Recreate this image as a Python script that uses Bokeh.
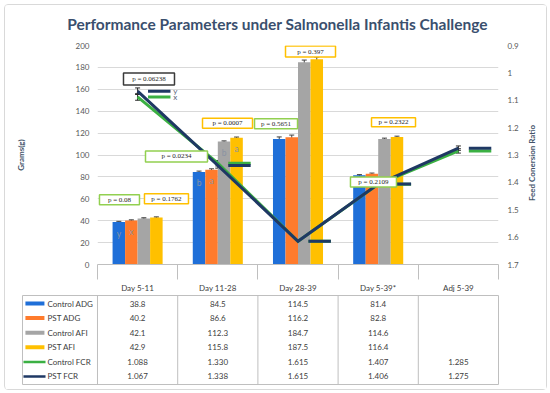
import math
from bokeh.plotting import figure
from bokeh.models import (Range1d, LinearAxis, FixedTicker, NumeralTickFormatter,
                          ColumnDataSource, Whisker, TeeHead)
from bokeh.layouts import column, row
from bokeh.core.properties import value
from bokeh.embed import file_html
from bokeh.resources import INLINE

# ---------------- data ----------------
categories = ["Day 5-11", "Day 11-28", "Day 28-39", "Day 5-39*", "Adj 5-39"]
control_adg = [38.8, 84.5, 114.5, 81.4]
pst_adg = [40.2, 86.6, 116.2, 82.8]
control_afi = [42.1, 112.3, 184.7, 114.6]
pst_afi = [42.9, 115.8, 187.5, 116.4]
control_fcr = [1.088, 1.330, 1.615, 1.407, 1.285]
pst_fcr = [1.067, 1.338, 1.615, 1.406, 1.275]
# error bars
control_adg_se = [0.6, 0.8, 2.0, 0.7]
pst_adg_se = [0.6, 0.8, 2.0, 0.7]
control_afi_se = [0.6, 0.6, 2.0, 0.8]
pst_afi_se = [0.6, 0.6, 2.0, 0.8]
control_fcr_se = [0.012, 0.010, 0.010, 0.008, 0.008]
pst_fcr_se = [0.012, 0.010, 0.010, 0.008, 0.008]
left_ticks = [0, 20, 40, 60, 80, 100, 120, 140, 160, 180, 200]
right_ticks = [0.9, 1.0, 1.1, 1.2, 1.3, 1.4, 1.5, 1.6, 1.7]
# significance letters: (series name, category index, letter)
bar_letters = [("Control ADG", 0, "y"), ("PST ADG", 0, "x"),
               ("Control ADG", 1, "b"), ("PST ADG", 1, "a"),
               ("Control AFI", 1, "b"), ("PST AFI", 1, "a")]
fcr_letters = [("PST FCR", 0, "y"), ("Control FCR", 0, "x")]
# p-value boxes
p_texts = ["p = 0.08", "p = 0.1762", "p = 0.06238", "p = 0.0234", "p = 0.0007",
           "p = 0.5651", "p = 0.397", "p = 0.2109", "p = 0.2322"]
title_text = "Performance Parameters under Salmonella Infantis Challenge"
left_title = "Grams(g)"
right_title = "Feed Conersion Ratio"

# ---------------- styling / layout (not data) ----------------
FONT = "Lato"
TXT = "#595959"
TAB_TXT = "#404040"
SLATE = "#44546A"
GRID = "#D9D9D9"
TLINE = "#BFBFBF"
GREEN_BOX = "#92D050"
GOLD_BOX = "#FFC000"
DARK_BOX = "#3A3A3A"
LETTER_COLOR = "#8A93A3"
# (x in category units, y in grams, box w px, box h px, colour)
p_layout = [(0.274, 59.1, 40, 10, GREEN_BOX), (0.860, 60.0, 44, 10, GOLD_BOX),
            (0.642, 169.4, 51, 12, DARK_BOX), (0.985, 98.7, 62, 11, GREEN_BOX),
            (1.621, 128.9, 50, 10, GOLD_BOX), (2.226, 128.5, 43, 10, GREEN_BOX),
            (2.656, 194.5, 50, 11, GOLD_BOX), (3.441, 75.3, 46, 10, GREEN_BOX),
            (3.691, 129.8, 44, 9, GOLD_BOX)]

bar_series = [
    ("Control ADG", control_adg, control_adg_se, "#1F6FD8"),
    ("PST ADG", pst_adg, pst_adg_se, "#FF7B2C"),
    ("Control AFI", control_afi, control_afi_se, "#A5A5A5"),
    ("PST AFI", pst_afi, pst_afi_se, "#FFC000"),
]
line_series = [
    ("Control FCR", control_fcr, control_fcr_se, "#3BB043"),
    ("PST FCR", pst_fcr, pst_fcr_se, "#1F3864"),
]
BAR_W = 0.156
offsets = [-1.5 * BAR_W, -0.5 * BAR_W, 0.5 * BAR_W, 1.5 * BAR_W]
DASH0, DASH1 = 0.13, 0.41
LETTER_DROP = 10.5

MAIN_W = 519
SIDE_W = 22
TITLE_H = 30


def no_align(fig):
    try:
        fig.frame_align = False
    except Exception:
        pass


def blank(fig):
    fig.grid.visible = False
    no_align(fig)


# ---------------- title strip ----------------
ttl = figure(width=MAIN_W, height=TITLE_H, x_range=Range1d(0, MAIN_W), y_range=Range1d(0, TITLE_H),
             x_axis_location=None, y_axis_location=None,
             output_backend="svg", toolbar_location=None,
             min_border_left=0, min_border_right=0, min_border_top=0, min_border_bottom=0,
             background_fill_color="white", border_fill_color="white", outline_line_color=None)
blank(ttl)
ttl.text(x=[272], y=[12], text=[title_text], text_font=value(FONT), text_font_size="15.5px",
         text_font_style="bold", text_color="#3A4F6E", text_align="center",
         text_baseline="middle")

# ---------------- main chart ----------------
top = figure(width=MAIN_W, height=290 - TITLE_H, x_range=Range1d(0, 5), y_range=Range1d(0, 200),
             output_backend="svg", toolbar_location=None,
             min_border_left=92, min_border_right=26, min_border_top=10, min_border_bottom=15,
             background_fill_color="white", border_fill_color="white", outline_line_color=None)
no_align(top)
top.extra_y_ranges = {"fcr": Range1d(1.7, 0.9)}

yax = top.yaxis[0]
yax.ticker = FixedTicker(ticks=left_ticks)
yax.axis_line_color = None
yax.major_tick_line_color = None
yax.minor_tick_line_color = None
yax.major_tick_out = 0
yax.major_tick_in = 0
yax.major_label_text_font = FONT
yax.major_label_text_font_size = "8px"
yax.major_label_text_color = TXT
yax.major_label_standoff = 8
yax.axis_label = left_title
yax.axis_label_text_font = FONT
yax.axis_label_text_font_size = "8px"
yax.axis_label_text_font_style = "bold"
yax.axis_label_text_color = SLATE
yax.axis_label_standoff = 47

top.ygrid.ticker = FixedTicker(ticks=left_ticks)
top.ygrid.grid_line_color = GRID
top.xgrid.visible = False

rax = LinearAxis(y_range_name="fcr", ticker=FixedTicker(ticks=right_ticks),
                 formatter=NumeralTickFormatter(format="0.[0]"))
rax.axis_line_color = None
rax.major_tick_line_color = None
rax.minor_tick_line_color = None
rax.major_tick_out = 0
rax.major_tick_in = 0
rax.major_label_text_font = FONT
rax.major_label_text_font_size = "8px"
rax.major_label_text_color = TXT
rax.major_label_standoff = 9
top.add_layout(rax, "right")

xax = top.xaxis[0]
xax.ticker = FixedTicker(ticks=[i + 0.5 for i in range(len(categories))],
                         minor_ticks=list(range(len(categories) + 1)))
xax.major_label_overrides = {i + 0.5: c for i, c in enumerate(categories)}
xax.major_tick_out = 0
xax.major_tick_in = 0
xax.major_tick_line_color = None
xax.minor_tick_out = 15
xax.minor_tick_in = 0
xax.minor_tick_line_color = TLINE
xax.axis_line_color = TLINE
xax.major_label_standoff = 3
xax.major_label_text_font = FONT
xax.major_label_text_font_size = "8px"
xax.major_label_text_color = TAB_TXT

# bars + error bars
bar_x = {}
for k, (name, vals, se, color) in enumerate(bar_series):
    xs = [i + 0.5 + offsets[k] for i in range(len(vals))]
    bar_x[name] = (xs, vals)
    src = ColumnDataSource(dict(x=xs, top=vals,
                                upper=[v + s for v, s in zip(vals, se)],
                                lower=[v - s for v, s in zip(vals, se)]))
    top.vbar(x="x", top="top", width=BAR_W, bottom=0, source=src,
             fill_color=color, line_color=None)
    top.add_layout(Whisker(source=src, base="x", upper="upper", lower="lower",
                           line_color="#404040", line_width=1,
                           upper_head=TeeHead(size=5, line_color="#404040", line_width=1),
                           lower_head=TeeHead(size=5, line_color="#404040", line_width=1)))

# letters inside bars
lx, ly, lt = [], [], []
for name, idx, letter in bar_letters:
    xs, vals = bar_x[name]
    lx.append(xs[idx]); ly.append(vals[idx] - LETTER_DROP); lt.append(letter)
top.text(x=lx, y=ly, text=lt, text_font=value(FONT), text_font_size="8.5px",
         text_color=LETTER_COLOR, text_align="center", text_baseline="middle")

# FCR lines
fcr_vals = {}
for name, vals, se, color in line_series:
    xs = [i + 0.5 for i in range(len(vals))]
    fcr_vals[name] = vals
    top.line(xs, vals, y_range_name="fcr", line_color=color, line_width=3, line_join="miter")
    top.segment(x0=[x + DASH0 for x in xs], x1=[x + DASH1 for x in xs], y0=vals, y1=vals,
                y_range_name="fcr", line_color=color, line_width=3)
for name, vals, se, color in line_series:
    xs = [i + 0.5 for i in range(len(vals))]
    wsrc = ColumnDataSource(dict(x=xs, upper=[v + s for v, s in zip(vals, se)],
                                 lower=[v - s for v, s in zip(vals, se)]))
    top.add_layout(Whisker(source=wsrc, base="x", upper="upper", lower="lower",
                           y_range_name="fcr", line_color="#2B2B2B", line_width=1,
                           upper_head=TeeHead(size=5, line_color="#2B2B2B", line_width=1),
                           lower_head=TeeHead(size=5, line_color="#2B2B2B", line_width=1)))

fx, fy, ft = [], [], []
for name, idx, letter in fcr_letters:
    fx.append(idx + 0.5 + DASH1 + 0.06); fy.append(fcr_vals[name][idx]); ft.append(letter)
top.text(x=fx, y=fy, text=ft, y_range_name="fcr", text_font=value(FONT), text_font_size="8px",
         text_color="#5A6478", text_align="center", text_baseline="middle")

# p-value boxes
pb = ColumnDataSource(dict(x=[p[0] for p in p_layout], y=[p[1] for p in p_layout],
                           w=[p[2] for p in p_layout], h=[p[3] for p in p_layout],
                           c=[p[4] for p in p_layout], t=p_texts))
top.rect(x="x", y="y", width="w", height="h", width_units="screen", height_units="screen",
         fill_color="white", line_color="c", line_width=1.5, source=pb)
top.text(x="x", y="y", text="t", text_font=value("Liberation Serif"), text_font_size="7px",
         text_align="center", text_baseline="middle", text_color="#262626", source=pb)

# ---------------- data table ----------------
ROW_PAD = 0.548
n_rows = len(bar_series) + len(line_series)
bot = figure(width=MAIN_W, height=94, x_range=Range1d(-0.935, 5),
             y_range=Range1d(n_rows - 1 + ROW_PAD, -ROW_PAD),
             x_axis_location=None, y_axis_location=None,
             output_backend="svg", toolbar_location=None,
             min_border_left=17, min_border_right=26, min_border_top=0, min_border_bottom=5,
             background_fill_color="white", border_fill_color="white",
             outline_line_color=TLINE)
blank(bot)
nb = len(categories)
bot.segment(x0=list(range(nb)), x1=list(range(nb)),
            y0=[-ROW_PAD] * nb, y1=[n_rows - 1 + ROW_PAD] * nb,
            line_color=TLINE, line_width=1)

tx, ty, tt = [], [], []
for r, (name, vals, se, color) in enumerate(bar_series):
    bot.rect(x=[-0.78], y=[r], width=0.237, height=4, height_units="screen",
             fill_color=color, line_color=None)
    for i, v in enumerate(vals):
        tx.append(i + 0.5); ty.append(r); tt.append(f"{v:.1f}")
for j, (name, vals, se, color) in enumerate(line_series):
    r = len(bar_series) + j
    bot.segment(x0=[-0.923], x1=[-0.648], y0=[r], y1=[r], line_color=color, line_width=2.5)
    for i, v in enumerate(vals):
        tx.append(i + 0.5); ty.append(r); tt.append(f"{v:.3f}")
bot.text(x=tx, y=ty, text=tt, text_font=value(FONT), text_font_size="8px",
         text_color=TAB_TXT, text_align="center", text_baseline="middle")
names = [s[0] for s in bar_series] + [s[0] for s in line_series]
bot.text(x=[-0.623] * n_rows, y=list(range(n_rows)), text=names, text_font=value(FONT),
         text_font_size="8px", text_color=TAB_TXT, text_align="left", text_baseline="middle")

# ---------------- right-hand axis title strip ----------------
side = figure(width=SIDE_W, height=384, x_range=Range1d(0, SIDE_W), y_range=Range1d(0, 384),
              x_axis_location=None, y_axis_location=None,
              output_backend="svg", toolbar_location=None,
              min_border_left=0, min_border_right=0, min_border_top=0, min_border_bottom=0,
              background_fill_color="white", border_fill_color="white", outline_line_color=None)
blank(side)
side.text(x=[7], y=[226.5], text=[right_title], angle=math.pi / 2,
          text_font=value(FONT), text_font_size="8px", text_font_style="bold",
          text_color=SLATE, text_align="center", text_baseline="middle")

layout = row(column(ttl, top, bot, spacing=0), side, spacing=0,
             styles={"border": "1px solid #D9D9D9", "border-radius": "4px",
                     "margin": "4px 0 0 4px"})
open("out.html", "w").write(file_html(layout, INLINE))
